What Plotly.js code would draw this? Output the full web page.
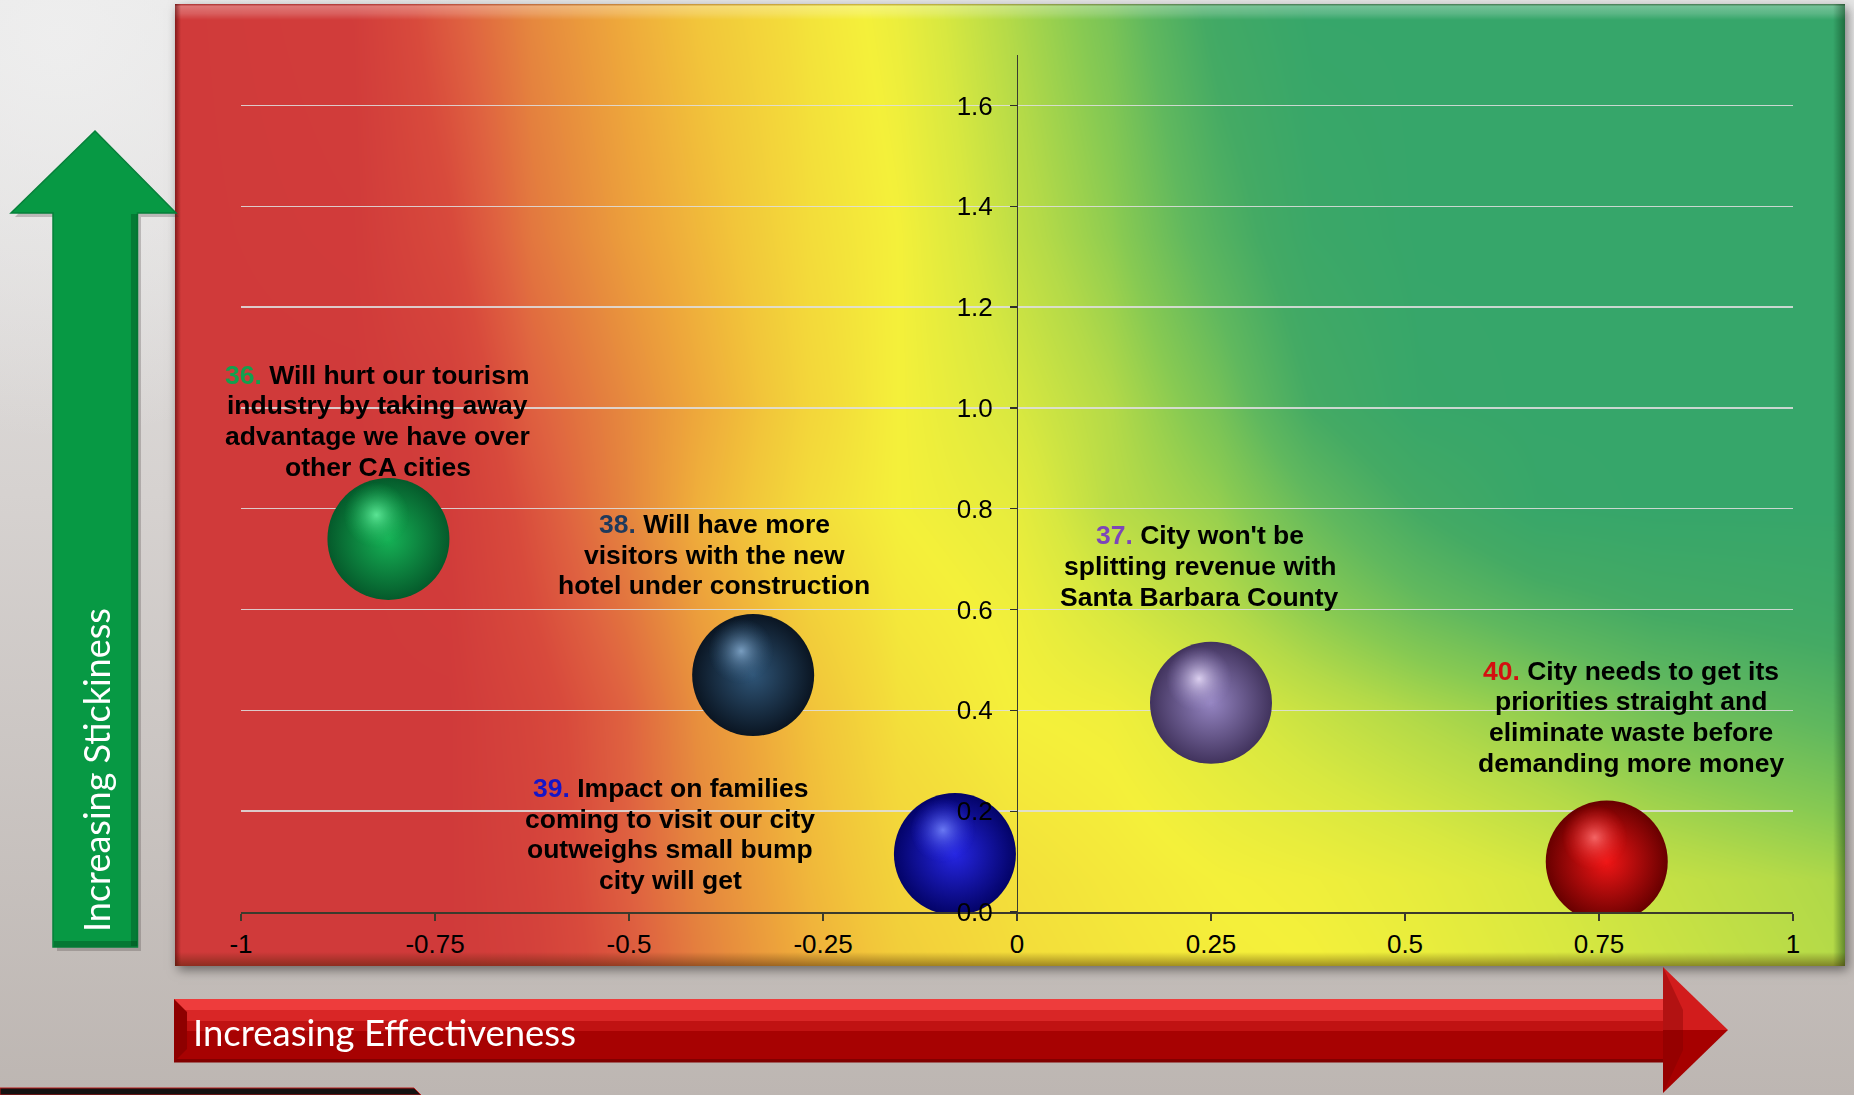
<!DOCTYPE html>
<html>
<head>
<meta charset="utf-8">
<script src="https://cdn.plot.ly/plotly-3.0.1.min.js"></script>
<style>
html,body{margin:0;padding:0;background:#d2cecc;overflow:hidden;}
#chart{width:1854px;height:1095px;}
</style>
</head>
<body>
<div id="chart"></div>
<script>
// ------------------------- DATA -------------------------
const statementIds = ['36', '38', '39', '37', '40'];
const effectiveness = [-0.81, -0.34, -0.08, 0.25, 0.76];
const stickiness = [0.74, 0.47, 0.115, 0.415, 0.10];
const statementLines = [
  ['Will hurt our tourism', 'industry by taking away', 'advantage we have over', 'other CA cities'],
  ['Will have more', 'visitors with the new', 'hotel under construction'],
  ['Impact on families', 'coming to visit our city', 'outweighs small bump', 'city will get'],
  ["City won't be", 'splitting revenue with', 'Santa Barbara County'],
  ['City needs to get its', 'priorities straight and', 'eliminate waste before', 'demanding more money']
];
const xTickValues = [-1, -0.75, -0.5, -0.25, 0, 0.25, 0.5, 0.75, 1];
const xTickLabels = ['-1', '-0.75', '-0.5', '-0.25', '0', '0.25', '0.5', '0.75', '1'];
const yTickValues = [0, 0.2, 0.4, 0.6, 0.8, 1.0, 1.2, 1.4, 1.6];
const yTickLabels = ['0.0', '0.2', '0.4', '0.6', '0.8', '1.0', '1.2', '1.4', '1.6'];
const xAxisTitle = 'Increasing Effectiveness';
const yAxisTitle = 'Increasing Stickiness';

// ------------------------- STYLE -------------------------
const sphereBody = ['#16b256', '#2f5577', '#2626e2', '#9585c2', '#f01616'];
const sphereEdge = ['#055a2b', '#0a1522', '#030368', '#41335d', '#680000'];
const sphereGlow = ['#6af5a4', '#8ab0d4', '#7a8cff', '#efe4ff', '#ff7676'];
const numberColor = ['#13a04e', '#1f3a5c', '#1515c8', '#7d46b8', '#d41010'];
// data-space centre of the first text line of each statement label
const labelPlace = [
  {x: -0.8235, y: 1.066}, {x: -0.390, y: 0.770}, {x: -0.4466, y: 0.2462},
  {x: 0.2352, y: 0.748}, {x: 0.7915, y: 0.479}
];
const LINE_GAP = 30.8;

const W = 1854, H = 1095;
const M = {l: 241, r: 61, t: 55, b: 183};
const PW = W - M.l - M.r, PH = H - M.t - M.b;
const X_RANGE = [-1, 1], Y_RANGE = [0, 1.7];
const fx = px => (px - M.l) / PW;
const fy = py => (H - M.b - py) / PH;

// background colour field of the panel (in 1568-wide preview px)
const bgCols = [148, 300, 380, 450, 530, 590, 685, 760, 860, 940, 1030, 1110, 1200, 1300, 1400, 1560];
const bgRows = [3, 200, 345, 432, 519, 600, 744, 817];
const bgVals = [
  [0, 0.02, 0.18, 0.31, 0.41, 0.48, 0.57, 0.62, 0.73, 0.81, 0.94, 1, 1, 1, 1, 1],
  [0, 0.01, 0.11, 0.26, 0.37, 0.44, 0.55, 0.60, 0.70, 0.77, 0.88, 0.97, 1, 1, 1, 1],
  [0, 0, 0.04, 0.19, 0.31, 0.40, 0.53, 0.60, 0.66, 0.72, 0.81, 0.92, 0.99, 1, 1, 1],
  [0, 0, 0.02, 0.15, 0.30, 0.42, 0.55, 0.60, 0.63, 0.71, 0.76, 0.84, 0.92, 0.99, 1, 1],
  [0, 0, 0.01, 0.12, 0.25, 0.37, 0.51, 0.58, 0.61, 0.66, 0.71, 0.77, 0.83, 0.88, 0.92, 0.95],
  [0, 0, 0, 0.08, 0.20, 0.33, 0.47, 0.56, 0.60, 0.61, 0.65, 0.69, 0.73, 0.77, 0.82, 0.87],
  [0, 0, 0, 0.06, 0.19, 0.30, 0.44, 0.52, 0.56, 0.58, 0.60, 0.61, 0.63, 0.66, 0.69, 0.73],
  [0, 0, 0, 0.05, 0.17, 0.28, 0.42, 0.50, 0.55, 0.57, 0.59, 0.60, 0.62, 0.65, 0.68, 0.72]
];
const bgScale = [[0, '#d03a3a'], [0.12, '#d84a3c'], [0.2, '#df6240'], [0.3, '#e5853e'], [0.4, '#eea83b'],
  [0.48, '#f2c63a'], [0.55, '#f3dc3a'], [0.6, '#f4f03a'], [0.66, '#d8e840'], [0.72, '#b4da48'],
  [0.78, '#88ca52'], [0.85, '#60b85e'], [0.92, '#44aa64'], [1, '#36a66a']];

function hexRgb(h) { return [parseInt(h.slice(1, 3), 16), parseInt(h.slice(3, 5), 16), parseInt(h.slice(5, 7), 16)]; }
function rgba(h, a) { const c = hexRgb(h); return 'rgba(' + c[0] + ',' + c[1] + ',' + c[2] + ',' + a + ')'; }

function buildBackground() {
  const c = document.createElement('canvas');
  c.width = W; c.height = H;
  const g = c.getContext('2d');
  // page
  let lg = g.createLinearGradient(0, 0, 0, H);
  lg.addColorStop(0, '#e6e6e6'); lg.addColorStop(0.45, '#d6d2d0'); lg.addColorStop(1, '#bdb6b2');
  g.fillStyle = lg; g.fillRect(0, 0, W, H);
  let rg = g.createRadialGradient(60, 40, 10, 60, 40, 400);
  rg.addColorStop(0, 'rgba(240,240,240,0.8)'); rg.addColorStop(1, 'rgba(240,240,240,0)');
  g.fillStyle = rg; g.fillRect(0, 0, 600, 500);

  const P = {x0: 175, y0: 4, x1: 1845, y1: 966};
  const pw = P.x1 - P.x0, ph = P.y1 - P.y0;
  // shadow
  g.save();
  g.shadowColor = 'rgba(0,0,0,0.45)'; g.shadowBlur = 10; g.shadowOffsetX = 3; g.shadowOffsetY = 4;
  g.fillStyle = '#888'; g.fillRect(P.x0, P.y0, pw, ph);
  g.restore();

  // colour LUT
  const N = 1024, lut = new Uint8Array(N * 3);
  const stops = bgScale.map(s => [s[0], hexRgb(s[1])]);
  for (let k = 0; k < N; k++) {
    const v = k / (N - 1);
    let i = 0; while (i < stops.length - 2 && v > stops[i + 1][0]) i++;
    const t = Math.max(0, Math.min(1, (v - stops[i][0]) / (stops[i + 1][0] - stops[i][0])));
    for (let ch = 0; ch < 3; ch++) lut[k * 3 + ch] = Math.round(stops[i][1][ch] + (stops[i + 1][1][ch] - stops[i][1][ch]) * t);
  }
  const S = W / 1568;
  const colsF = bgCols.map(v => v * S), rowsF = bgRows.map(v => v * S);
  function locate(arr, v) {
    let i = 0; while (i < arr.length - 2 && v > arr[i + 1]) i++;
    let t = (v - arr[i]) / (arr[i + 1] - arr[i]); t = Math.max(0, Math.min(1, t));
    return [i, t];
  }
  const colIdx = new Int32Array(pw), colT = new Float32Array(pw);
  for (let x = 0; x < pw; x++) { const r = locate(colsF, P.x0 + x + 0.5); colIdx[x] = r[0]; colT[x] = r[1]; }
  const img = g.createImageData(pw, ph), d = img.data;
  for (let y = 0; y < ph; y++) {
    const rr = locate(rowsF, P.y0 + y + 0.5), j = rr[0], u = rr[1];
    const r0 = bgVals[j], r1 = bgVals[j + 1];
    for (let x = 0; x < pw; x++) {
      const i = colIdx[x], t = colT[x];
      const v0 = r0[i] + (r0[i + 1] - r0[i]) * t;
      const v1 = r1[i] + (r1[i + 1] - r1[i]) * t;
      const v = Math.max(0, Math.min(1, v0 + (v1 - v0) * u));
      const k = Math.round(v * (N - 1)) * 3, o = (y * pw + x) * 4;
      d[o] = lut[k]; d[o + 1] = lut[k + 1]; d[o + 2] = lut[k + 2]; d[o + 3] = 255;
    }
  }
  g.putImageData(img, P.x0, P.y0);

  // bevels
  let tg = g.createLinearGradient(0, P.y0, 0, P.y0 + 16);
  tg.addColorStop(0, 'rgba(90,20,20,0.35)'); tg.addColorStop(0.15, 'rgba(255,255,255,0.30)');
  tg.addColorStop(0.6, 'rgba(255,255,255,0.18)'); tg.addColorStop(1, 'rgba(255,255,255,0)');
  g.fillStyle = tg; g.fillRect(P.x0, P.y0, pw, 16);
  let lgL = g.createLinearGradient(P.x0, 0, P.x0 + 6, 0);
  lgL.addColorStop(0, 'rgba(70,0,0,0.55)'); lgL.addColorStop(1, 'rgba(70,0,0,0)');
  g.fillStyle = lgL; g.fillRect(P.x0, P.y0, 6, ph);
  let lgR = g.createLinearGradient(P.x1 - 12, 0, P.x1, 0);
  lgR.addColorStop(0, 'rgba(0,40,10,0)'); lgR.addColorStop(1, 'rgba(0,40,10,0.45)');
  g.fillStyle = lgR; g.fillRect(P.x1 - 12, P.y0, 12, ph);
  let lgB = g.createLinearGradient(0, P.y1 - 14, 0, P.y1);
  lgB.addColorStop(0, 'rgba(60,30,0,0)'); lgB.addColorStop(1, 'rgba(60,30,0,0.45)');
  g.fillStyle = lgB; g.fillRect(P.x0, P.y1 - 14, pw, 14);
  return c.toDataURL('image/png');
}

// ------------------------- TRACES -------------------------
const hlDx = -12 * (X_RANGE[1] - X_RANGE[0]) / PW;
const hlDy = 24 * (Y_RANGE[1] - Y_RANGE[0]) / PH;

const spheres = {
  type: 'scatter', mode: 'markers',
  x: effectiveness, y: stickiness,
  text: statementIds,
  marker: {size: 122, color: sphereEdge, gradient: {type: 'radial', color: sphereBody}, line: {width: 0}},
  hoverinfo: 'skip', showlegend: false
};
const glints = {
  type: 'scatter', mode: 'markers',
  x: effectiveness.map(v => v + hlDx), y: stickiness.map(v => v + hlDy),
  marker: {size: 66, color: sphereBody.map(c => rgba(c, 0)), gradient: {type: 'radial', color: sphereGlow}, line: {width: 0}},
  opacity: 0.85,
  hoverinfo: 'skip', showlegend: false
};

// ------------------------- ANNOTATIONS -------------------------
const LABEL_FONT = {family: 'Liberation Sans, Arial, sans-serif', size: 26.5, color: '#000000', weight: 700};
const annotations = [];
statementLines.forEach((lines, i) => {
  lines.forEach((ln, j) => {
    annotations.push({
      xref: 'x', yref: 'y', x: labelPlace[i].x, y: labelPlace[i].y, yshift: -LINE_GAP * j,
      text: j === 0 ? '<span style="color:' + numberColor[i] + '">' + statementIds[i] + '.</span> ' + ln : ln,
      showarrow: false, xanchor: 'center', yanchor: 'middle', font: LABEL_FONT
    });
  });
});
annotations.push({
  xref: 'paper', yref: 'paper', x: fx(96), y: fy(770), text: yAxisTitle, textangle: -90,
  showarrow: false, xanchor: 'center', yanchor: 'middle',
  font: {family: 'Lato, sans-serif', size: 36, color: '#ffffff'}
});
annotations.push({
  xref: 'paper', yref: 'paper', x: fx(191), y: fy(1032), text: xAxisTitle,
  showarrow: false, xanchor: 'left', yanchor: 'middle',
  font: {family: 'Lato, sans-serif', size: 36.5, color: '#ffffff'}
});

// ------------------------- SHAPES (arrows) -------------------------
function pathOf(pts) {
  return 'M' + pts.map(p => fx(p[0]).toFixed(5) + ',' + fy(p[1]).toFixed(5)).join('L') + 'Z';
}
function poly(pts, fill, line) {
  return {type: 'path', xref: 'paper', yref: 'paper', path: pathOf(pts), fillcolor: fill,
    line: line ? line : {width: 0}, layer: 'above'};
}
function box(x0, y0, x1, y1, fill) { return poly([[x0, y0], [x1, y0], [x1, y1], [x0, y1]], fill); }

const shapes = [
  // green arrow
  poly([[97, 134], [99, 136], [179, 217], [141, 217], [141, 951], [57, 951], [57, 217], [15, 217]], 'rgba(60,50,50,0.25)'),
  poly([[95, 131], [176, 213], [137.5, 213], [137.5, 947], [53, 947], [53, 213], [11, 213]], '#079944', {color: '#06803a', width: 1.5}),
  box(131, 214, 137.5, 946, 'rgba(0,70,25,0.35)'),
  box(54, 941, 137, 946.5, 'rgba(0,60,20,0.35)'),
  // red arrow shaft
  box(174, 999, 1663, 1010, '#ee3c3c'),
  box(174, 1010, 1663, 1021, '#d92626'),
  box(174, 1021, 1663, 1031, '#c01212'),
  box(174, 1031, 1663, 1062, '#a70202'),
  box(174, 1059, 1663, 1062.5, '#820000'),
  poly([[174, 999], [187, 1012], [187, 1049], [174, 1062]], '#8e0000'),
  // red arrow head
  poly([[1663, 967], [1728, 1030], [1663, 1030]], '#d21c1c'),
  poly([[1663, 1030], [1728, 1030], [1663, 1093]], '#a60000'),
  poly([[1663, 967], [1683, 1010], [1683, 1050], [1663, 1093]], 'rgba(120,0,0,0.35)'),
  // bottom-left dark bar
  poly([[0, 1088], [414, 1088], [421, 1095], [0, 1095]], '#151212', {color: '#b81c1c', width: 1})
];

// ------------------------- LAYOUT -------------------------
const TICK_FONT = {family: 'Liberation Sans, Arial, sans-serif', size: 26, color: '#000000'};
const layout = {
  width: W, height: H,
  margin: M,
  paper_bgcolor: '#d2cecc', plot_bgcolor: 'rgba(0,0,0,0)',
  showlegend: false, hovermode: false,
  xaxis: {
    range: X_RANGE, domain: [0, 1], tickmode: 'array', tickvals: xTickValues, ticktext: xTickLabels,
    ticks: 'outside', ticklen: 7, tickwidth: 1.3, tickcolor: '#3b3a2c',
    showline: true, linecolor: '#3b3a2c', linewidth: 1.6,
    showgrid: false, zeroline: false, tickfont: TICK_FONT, ticklabelstandoff: 1, fixedrange: true
  },
  yaxis: {
    range: Y_RANGE, anchor: 'free', position: 0.5, side: 'left',
    tickmode: 'array', tickvals: yTickValues, ticktext: yTickLabels,
    ticks: 'outside', ticklen: 7, tickwidth: 1.3, tickcolor: '#2e2e2e',
    showline: true, linecolor: '#3a3a30', linewidth: 1.4,
    showgrid: true, gridcolor: 'rgba(222,222,222,0.88)', gridwidth: 1.4,
    zeroline: false, tickfont: TICK_FONT, ticklabelstandoff: 12, fixedrange: true
  },
  annotations: annotations,
  shapes: shapes,
  images: [{
    source: buildBackground(), xref: 'paper', yref: 'paper',
    x: fx(0), y: fy(0), sizex: W / PW, sizey: H / PH,
    xanchor: 'left', yanchor: 'top', sizing: 'stretch', layer: 'below'
  }]
};

Plotly.newPlot('chart', [spheres, glints], layout, {displayModeBar: false, staticPlot: true});
</script>
</body>
</html>
